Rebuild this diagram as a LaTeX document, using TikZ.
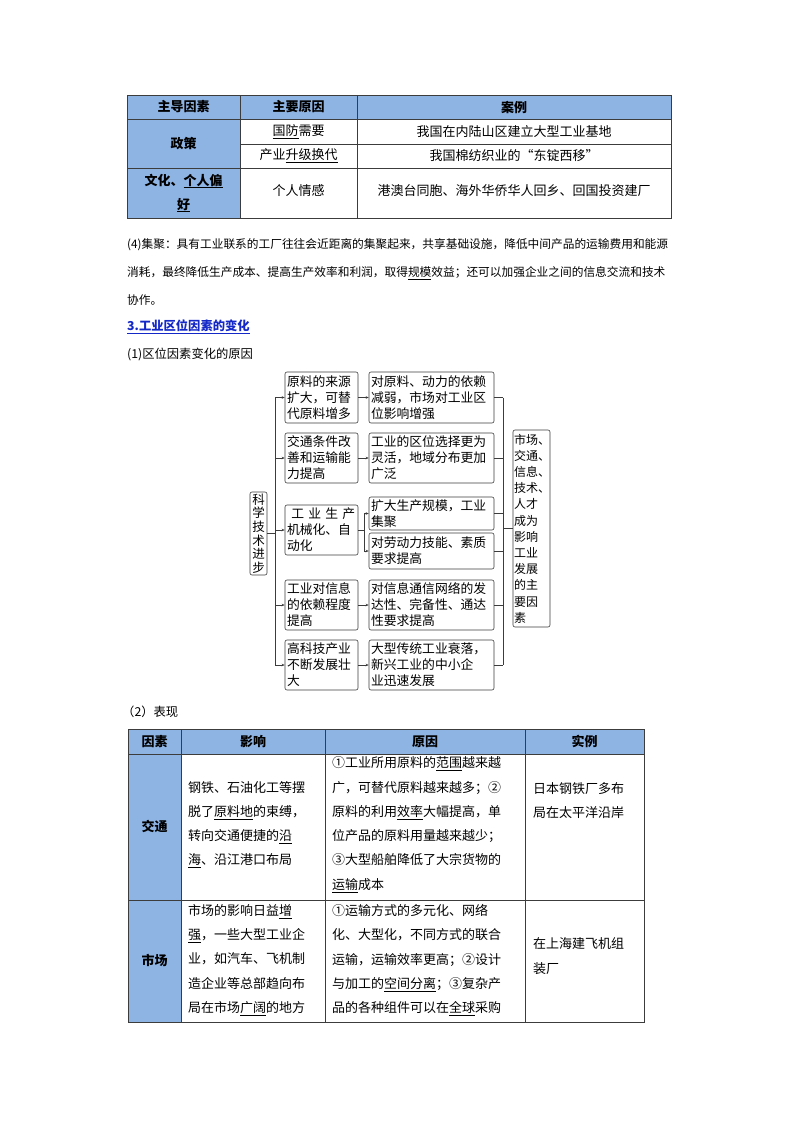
\documentclass[tikz,border=0pt]{standalone}
\usepackage{fontspec}
\setmainfont{Noto Sans CJK SC}
\usetikzlibrary{arrows.meta}
\definecolor{hb}{RGB}{142,180,227}
\definecolor{ln}{RGB}{60,60,60}
\definecolor{ttl}{RGB}{20,40,200}
\begin{document}
\begin{tikzpicture}[x=1pt,y=-1pt,
  tx/.style={anchor=west,inner sep=0pt,font=\fontsize{13}{24.3}\selectfont,align=left},
  tc/.style={inner sep=0pt,font=\fontsize{13}{24.3}\selectfont,align=center},
  th/.style={inner sep=0pt,font=\fontsize{13}{24}\selectfont\bfseries,align=center},
  par/.style={anchor=west,inner sep=0pt,font=\fontsize{11.7}{15}\selectfont},
  dbox/.style={draw=ln,rounded corners=2pt,inner sep=0pt,align=left,font=\fontsize{12.8}{16}\selectfont,line width=0.6pt},
  con/.style={draw=ln,line width=0.6pt},
  arr/.style={con,-{Stealth[length=3pt,width=2.5pt]}}]
\useasboundingbox[fill=white] (0,0) rectangle (800,1132);
% ---- top table
\fill[hb] (127,95) rectangle (671,119);
\fill[hb] (127,119) rectangle (240,218);
\draw[ln,line width=0.6pt] (127,95) rectangle (671,218);
\foreach \yy in {119,168} \draw[ln] (127,\yy) -- (671,\yy);
\draw[ln] (240,144) -- (671,144);
\foreach \xx in {240,357} \draw[ln] (\xx,95) -- (\xx,218);
\node[th] (h1) at (183.5,107) {主导因素};
\node[th] (h2) at (298.5,107) {主要原因};
\node[th] (h3) at (514,107) {案例};
\node[th] (p1) at (183.5,143.5) {政策};
\node[tc] (p2) at (298.5,131.5) {\underline{国防}需要};
\node[tc] (p3) at (514,131.5) {我国在内陆山区建立大型工业基地};
\node[tc] (p4) at (298.5,156) {产业\underline{升级换代}};
\node[tc] (p5) at (514,156) {我国棉纺织业的“东锭西移”};
\node[th] (p6) at (183.5,193) {文化、\underline{个人偏}\\\underline{好}};
\node[tc] (p7) at (298.5,191) {个人情感};
\node[tc] (p8) at (514,191) {港澳台同胞、海外华侨华人回乡、回国投资建厂};
% ---- paragraph
\node[par] (q1) at (127,245) {(4)集聚：具有工业联系的工厂往往会近距离的集聚起来，共享基础设施，降低中间产品的运输费用和能源};
\node[par] (q2) at (127,273) {消耗，最终降低生产成本、提高生产效率和利润，取得\underline{规模}效益；还可以加强企业之间的信息交流和技术};
\node[par] (q3) at (127,300) {协作。};
\node[par,font=\fontsize{12.3}{15}\selectfont\bfseries,text=ttl] (q4) at (127,327) {\underline{3.工业区位因素的变化}};
\node[par,font=\fontsize{12.3}{15}\selectfont] (q5) at (127,354) {(1)区位因素变化的原因};
% ---- diagram
\node[dbox,align=center,minimum width=17pt,minimum height=83pt,text width=14pt,font=\fontsize{12.5}{13.6}\selectfont] (L) at (258.5,533.5) {科\\学\\技\\术\\进\\步};
\node[dbox,minimum width=73pt,minimum height=51pt,text width=69pt] (c1) at (321.5,397.5) {原料的来源\\扩大，可替\\代原料增多};
\node[dbox,minimum width=73pt,minimum height=50pt,text width=69pt] (c2) at (321.5,458) {交通条件改\\善和运输能\\力提高};
\node[dbox,minimum width=73pt,minimum height=50pt,text width=69pt] (c3) at (321.5,530) {\ 工 业 生 产\\机械化、自\\动化};
\node[dbox,minimum width=73pt,minimum height=50pt,text width=69pt] (c4) at (321.5,605) {工业对信息\\的依赖程度\\提高};
\node[dbox,minimum width=73pt,minimum height=50pt,text width=69pt] (c5) at (321.5,665) {高科技产业\\不断发展壮\\大};
\node[dbox,minimum width=125pt,minimum height=51pt,text width=121pt] (d1) at (431.5,397.5) {对原料、动力的依赖\\减弱，市场对工业区\\位影响增强};
\node[dbox,minimum width=125pt,minimum height=50pt,text width=121pt] (d2) at (431.5,458) {工业的区位选择更为\\灵活，地域分布更加\\广泛};
\node[dbox,minimum width=125pt,minimum height=33pt,text width=121pt] (d3) at (431.5,513.5) {扩大生产规模，工业\\集聚};
\node[dbox,minimum width=125pt,minimum height=36pt,text width=121pt] (d4) at (431.5,551) {对劳动力技能、素质\\要求提高};
\node[dbox,minimum width=125pt,minimum height=50pt,text width=121pt] (d5) at (431.5,605) {对信息通信网络的发\\达性、完备性、通达\\性要求提高};
\node[dbox,minimum width=125pt,minimum height=50pt,text width=121pt] (d6) at (431.5,665) {大型传统工业衰落，\\新兴工业的中小企\\业迅速发展};
\node[dbox,minimum width=37pt,minimum height=197pt,text width=35pt,font=\fontsize{12}{16.2}\selectfont] (R) at (531.5,528.5) {市场、\\交通、\\信息、\\技术、\\人才\\成为\\影响\\工业\\发展\\的主\\要因\\素};
\coordinate (tr) at (275,0);
\coordinate (sp) at (364,0);
\coordinate (rr) at (503,0);
\draw[con] (L.east) -- (L.east -| tr);
\draw[con] (c1.west -| tr) -- (c5.west -| tr);
\foreach \n in {c1,c2,c3,c4,c5} \draw[arr] (\n.west -| tr) -- (\n.west);
\draw[arr] (c1) -- (d1);
\draw[arr] (c2) -- (d2);
\draw[arr] (c4) -- (d5);
\draw[arr] (c5) -- (d6);
\draw[con] (c3.east) -- (c3.east -| sp);
\draw[con] (d3.west -| sp) -- (d4.west -| sp);
\draw[arr] (d3.west -| sp) -- (d3.west);
\draw[arr] (d4.west -| sp) -- (d4.west);
\foreach \n in {d1,d2,d3,d4,d5,d6} \draw[con] (\n.east) -- (\n.east -| rr);
\draw[con] (d1.east -| rr) -- (d6.east -| rr);
\draw[con] (R.west -| rr) -- (R.west);
% ---- (2)
\node[par,font=\fontsize{12.3}{15}\selectfont] (q6) at (122,712) {（2）表现};
% ---- bottom table
\fill[hb] (128,729) rectangle (644,754);
\fill[hb] (128,754) rectangle (181,1022);
\draw[ln,line width=0.6pt] (128,729) rectangle (644,1022);
\foreach \yy in {754,900} \draw[ln] (128,\yy) -- (644,\yy);
\foreach \xx in {181,325,525} \draw[ln] (\xx,729) -- (\xx,1022);
\node[th] (g1) at (154.5,741.5) {因素};
\node[th] (g2) at (253,741.5) {影响};
\node[th] (g3) at (425,741.5) {原因};
\node[th] (g4) at (584.5,741.5) {实例};
\node[th] (g5) at (154.5,826) {交通};
\node[th] (g6) at (154.5,960) {市场};
\node[tx] (e1) at (188,824.5) {钢铁、石油化工等摆\\脱了\underline{原料地}的束缚，\\转向交通便捷的\underline{沿}\\\underline{海}、沿江港口布局};
\node[tx] (e2) at (332,824.5) {①工业所用原料的\underline{范围}越来越\\广，可替代原料越来越多；②\\原料的利用\underline{效率}大幅提高，单\\位产品的原料用量越来越少；\\③大型船舶降低了大宗货物的\\\underline{运输}成本};
\node[tx] (e3) at (533,800.5) {日本钢铁厂多布\\局在太平洋沿岸};
\node[tx] (e4) at (188,960) {市场的影响日益\underline{增}\\\underline{强}，一些大型工业企\\业，如汽车、飞机制\\造企业等总部趋向布\\局在市场\underline{广阔}的地方};
\node[tx] (e5) at (332,960) {①运输方式的多元化、网络\\化、大型化，不同方式的联合\\运输，运输效率更高；②设计\\与加工的\underline{空间分离}；③复杂产\\品的各种组件可以在\underline{全球}采购};
\node[tx] (e6) at (533,956) {在上海建飞机组\\装厂};
\end{tikzpicture}
\end{document}
